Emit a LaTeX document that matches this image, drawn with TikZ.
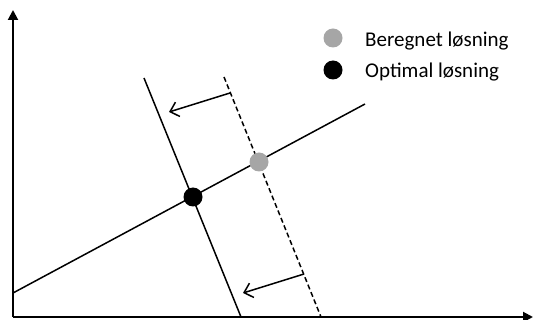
\documentclass[tikz,border=0pt]{standalone}
\usepackage{fontspec}
\setmainfont{Carlito}
\usetikzlibrary{positioning, arrows.meta}

\definecolor{calcgray}{RGB}{166,166,166}

\begin{document}
\begin{tikzpicture}[
    x=1pt, y=-1pt,
    axis/.style={line width=2pt, -{Triangle[length=10pt, width=10pt]}},
    constraint/.style={line width=1.5pt},
    shiftarrow/.style={line width=1.5pt, -{Straight Barb[length=8pt, width=15pt, line width=1.5pt]}},
    dot/.style={circle, inner sep=0pt, minimum size=19pt},
    legtext/.style={anchor=base west, inner sep=0pt, font=\fontsize{21}{25}\selectfont}
]

\useasboundingbox (0,0) rectangle (535,320);

% Axes
\coordinate (origin) at (13,317);
\coordinate (ytop) at (13,10);
\coordinate (xend) at (533,317);
\draw[axis] (origin) -- (ytop);
\draw[axis] (origin) -- (xend);

% Objective line
\coordinate (obja) at (13,293);
\coordinate (objb) at (365,104);
\draw[constraint] (obja) -- (objb);

% Optimal constraint (solid) and computed one (dashed)
\coordinate (opttop) at (144,78);
\coordinate (optbot) at (241,317);
\draw[constraint] (opttop) -- (optbot);

\coordinate (calctop) at (224,77);
\coordinate (calcbot) at (321,317);
\draw[constraint, dash pattern=on 5pt off 3pt] (calctop) -- (calcbot);

% Shift arrows
\coordinate (shiftup) at (230,93);
\coordinate (shiftupend) at (169,112);
\coordinate (shiftlo) at (304,274);
\coordinate (shiftloend) at (243,293);
\draw[shiftarrow] (shiftup) -- (shiftupend);
\draw[shiftarrow] (shiftlo) -- (shiftloend);

% Solutions
\node[dot, fill=calcgray] (calc) at (259,162) {};
\node[dot, fill=black] (opt) at (193,197) {};

% Legend
\node[dot, fill=calcgray] (legcalc) at (333,38) {};
\node[dot, fill=black] (legopt) at (333,70) {};
\node[legtext] (legcalctext) at (365,47) {Beregnet løsning};
\node[legtext] (legopttext) at (365,78) {Optimal løsning};

\end{tikzpicture}
\end{document}
